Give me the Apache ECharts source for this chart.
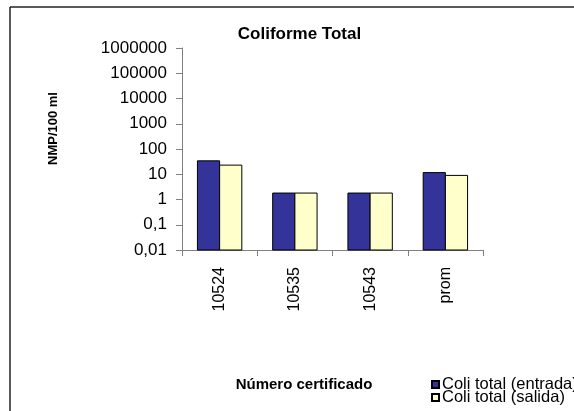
<!DOCTYPE html>
<html>
<head>
<meta charset="utf-8">
<script src="https://cdn.jsdelivr.net/npm/echarts@6/dist/echarts.min.js"></script>
<style>
  html, body { margin: 0; padding: 0; background: #fff; }
  #chart { width: 574px; height: 411px; }
</style>
</head>
<body>
<div id="chart"></div>
<script>
// Certificate numbers on the category axis
const certificados = ['10524', '10535', '10543', 'prom'];
// Total coliforms, NMP/100 ml
const coliEntrada = [34, 1.8, 1.8, 11.6];
const coliSalida = [23, 1.8, 1.8, 9];
// Log-scale tick labels (comma decimal separator)
const yTickLabels = ['0,01', '0,1', '1', '10', '100', '1000', '10000', '100000', '1000000'];

const FONT = '"Liberation Sans", Arial, sans-serif';
const Y_MIN = 0.01;
const Y_MAX = 1000000;
const CATEGORY_GAP = 0.41; // share of each category band left empty

// Bars on a log axis grow from the bottom of the axis (Y_MIN), side by side.
function makeBarRenderer(slot) {
  return function (params, api) {
    const cat = api.value(0);
    const val = api.value(1);
    const top = api.coord([cat, val]);
    const base = api.coord([cat, Y_MIN]);
    const band = api.size([1, 0])[0];
    const barW = band * (1 - CATEGORY_GAP) / 2;
    const x0 = top[0] - barW + slot * barW;
    return {
      type: 'rect',
      shape: { x: x0, y: top[1], width: barW, height: base[1] - top[1] },
      style: { fill: api.visual('color'), stroke: '#000', lineWidth: 1 }
    };
  };
}

const toPairs = arr => arr.map((v, i) => [i, v]);

const chart = echarts.init(document.getElementById('chart'), null, { renderer: 'canvas' });

chart.setOption({
  backgroundColor: '#ffffff',
  animation: false,
  title: {
    text: 'Coliforme Total',
    left: 294.5,
    top: 21,
    textAlign: 'center',
    textStyle: { fontFamily: FONT, fontSize: 17, fontWeight: 'bold', color: '#000' }
  },
  grid: { left: 182, right: 91, top: 48, bottom: 161, containLabel: false },
  legend: {
    orient: 'vertical',
    left: 431,
    top: 376,
    padding: 0,
    itemWidth: 7,
    itemHeight: 7,
    itemGap: -4,
    icon: 'rect',
    textStyle: { fontFamily: FONT, fontSize: 16.5, color: '#000', lineHeight: 13, padding: [0, 0, 0, -2] },
    data: ['Coli total (entrada)', 'Coli total (salida)']
  },
  xAxis: {
    type: 'category',
    data: certificados,
    axisLine: { lineStyle: { color: '#808080', width: 1 } },
    axisTick: { show: true, length: 6, alignWithLabel: false, lineStyle: { color: '#808080' } },
    axisLabel: {
      rotate: 90,
      margin: 17,
      fontFamily: FONT,
      fontSize: 16,
      color: '#000'
    },
    splitLine: { show: false }
  },
  yAxis: {
    type: 'log',
    logBase: 10,
    min: Y_MIN,
    max: Y_MAX,
    axisLine: { show: true, lineStyle: { color: '#808080', width: 1 } },
    axisTick: { show: true, length: 6, lineStyle: { color: '#808080' } },
    axisLabel: {
      margin: 15,
      fontFamily: FONT,
      fontSize: 17,
      color: '#000',
      formatter: function (v) {
        const idx = Math.round(Math.log10(v)) + 2;
        return yTickLabels[idx] !== undefined ? yTickLabels[idx] : '';
      }
    },
    splitLine: { show: false },
    minorTick: { show: false }
  },
  series: [
    {
      name: 'Coli total (entrada)',
      type: 'custom',
      renderItem: makeBarRenderer(0),
      encode: { x: 0, y: 1 },
      data: toPairs(coliEntrada),
      itemStyle: { color: '#333399', borderColor: '#000', borderWidth: 1 }
    },
    {
      name: 'Coli total (salida)',
      type: 'custom',
      renderItem: makeBarRenderer(1),
      encode: { x: 0, y: 1 },
      data: toPairs(coliSalida),
      itemStyle: { color: '#FFFFCC', borderColor: '#000', borderWidth: 1 }
    }
  ],
  graphic: [
    // Frame around the chart area (left and top edges)
    { type: 'line', shape: { x1: 10, y1: 7, x2: 10, y2: 411 }, style: { stroke: '#222', lineWidth: 1.5 } },
    { type: 'line', shape: { x1: 10, y1: 7, x2: 574, y2: 7 }, style: { stroke: '#222', lineWidth: 1.5 } },
    // Axis titles
    {
      type: 'text',
      x: 53, y: 128.5,
      rotation: Math.PI / 2,
      style: {
        text: 'NMP/100 ml',
        font: 'bold 13px ' + FONT,
        fill: '#000',
        textAlign: 'center',
        textVerticalAlign: 'middle'
      }
    },
    {
      type: 'text',
      x: 304, y: 385,
      style: {
        text: 'Número certificado',
        font: 'bold 15px ' + FONT,
        fill: '#000',
        textAlign: 'center',
        textVerticalAlign: 'middle'
      }
    }
  ]
});
</script>
</body>
</html>
